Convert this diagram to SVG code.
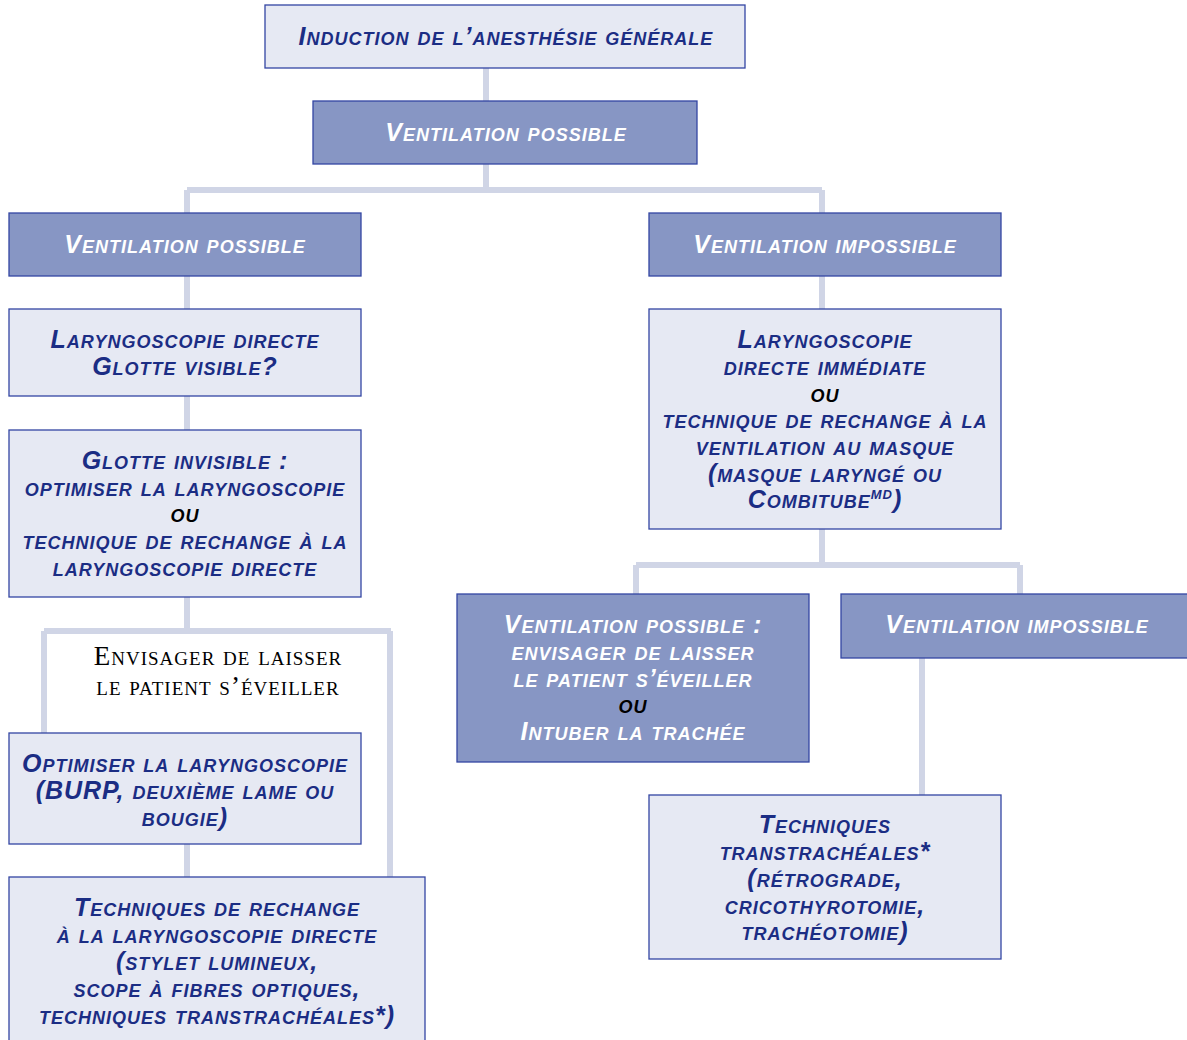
<svg xmlns="http://www.w3.org/2000/svg" width="1187" height="1040" viewBox="0 0 1187 1040">
<style>
.light{fill:#e6e9f3;stroke:#3346a3;stroke-width:1.3}
.dark{fill:#8796c4;stroke:#3346a3;stroke-width:1.3}
.t{font-family:"Liberation Sans",Arial,sans-serif;font-weight:bold;font-style:italic;font-variant:small-caps;font-size:25px;letter-spacing:1px;text-anchor:middle;fill:#1b2d84}
.w{fill:#ffffff}
.k{fill:#000000}
.s{font-family:"Liberation Serif","Times New Roman",serif;font-variant:small-caps;font-size:27px;letter-spacing:1px;text-anchor:middle;fill:#000000}
.c{stroke:#d0d5e6;stroke-width:6;fill:none}
</style>
<g id="connectors">
<path class="c" d="M486 68V101M486 164V190M187 190H822M187 190V213M822 190V213"/>
<path class="c" d="M187 276V309M187 396V430M187 597V631M44 631H391M44 631V733M390 631V877M187 844V877"/>
<path class="c" d="M822 276V309M822 529V565M636 565H1020M636 565V594M1020 565V594M922 658V795"/>
</g>
<g id="n1"><rect class="light" x="265" y="5" width="480" height="63"/>
<text class="t" x="506" y="45">Induction de l’anesthésie générale</text></g>
<g id="n2"><rect class="dark" x="313" y="101" width="384" height="63"/>
<text class="t w" x="506" y="141">Ventilation possible</text></g>
<g id="n3"><rect class="dark" x="9" y="213" width="352" height="63"/>
<text class="t w" x="185" y="253">Ventilation possible</text></g>
<g id="n4"><rect class="dark" x="649" y="213" width="352" height="63"/>
<text class="t w" x="825" y="253">Ventilation impossible</text></g>
<g id="n5"><rect class="light" x="9" y="309" width="352" height="87"/>
<text class="t" x="185" y="348">Laryngoscopie directe</text>
<text class="t" x="185" y="375">Glotte visible?</text></g>
<g id="n6"><rect class="light" x="9" y="430" width="352" height="167"/>
<text class="t" x="185" y="469">Glotte invisible :</text>
<text class="t" x="185" y="496">optimiser la laryngoscopie</text>
<text class="t k" x="185" y="522">ou</text>
<text class="t" x="185" y="549">technique de rechange à la</text>
<text class="t" x="185" y="576">laryngoscopie directe</text></g>
<g id="n7">
<text class="s" x="218" y="665">Envisager de laisser</text>
<text class="s" x="218" y="695">le patient s’éveiller</text></g>
<g id="n8"><rect class="light" x="9" y="733" width="352" height="111"/>
<text class="t" x="185" y="772">Optimiser la laryngoscopie</text>
<text class="t" x="185" y="799">(BURP, deuxième lame ou</text>
<text class="t" x="185" y="826">bougie)</text></g>
<g id="n9"><rect class="light" x="9" y="877" width="416" height="170"/>
<text class="t" x="217" y="916">Techniques de rechange</text>
<text class="t" x="217" y="943">à la laryngoscopie directe</text>
<text class="t" x="217" y="970">(stylet lumineux,</text>
<text class="t" x="217" y="997">scope à fibres optiques,</text>
<text class="t" x="217" y="1024">techniques transtrachéales*)</text></g>
<g id="n10"><rect class="light" x="649" y="309" width="352" height="220"/>
<text class="t" x="825" y="348">Laryngoscopie</text>
<text class="t" x="825" y="375">directe immédiate</text>
<text class="t k" x="825" y="402">ou</text>
<text class="t" x="825" y="428">technique de rechange à la</text>
<text class="t" x="825" y="455">ventilation au masque</text>
<text class="t" x="825" y="482">(masque laryngé ou</text>
<text class="t" x="825" y="508">Combitube<tspan font-size="13" dy="-9">MD</tspan><tspan dy="9">)</tspan></text></g>
<g id="n11"><rect class="dark" x="457" y="594" width="352" height="168"/>
<text class="t w" x="633" y="633">Ventilation possible :</text>
<text class="t w" x="633" y="660">envisager de laisser</text>
<text class="t w" x="633" y="687">le patient s’éveiller</text>
<text class="t k" x="633" y="713">ou</text>
<text class="t w" x="633" y="740">Intuber la trachée</text></g>
<g id="n12"><rect class="dark" x="841" y="594" width="352" height="64"/>
<text class="t w" x="1017" y="633">Ventilation impossible</text></g>
<g id="n13"><rect class="light" x="649" y="795" width="352" height="164"/>
<text class="t" x="825" y="833">Techniques</text>
<text class="t" x="825" y="860">transtrachéales*</text>
<text class="t" x="825" y="887">(rétrograde,</text>
<text class="t" x="825" y="914">cricothyrotomie,</text>
<text class="t" x="825" y="940">trachéotomie)</text></g>
</svg>
